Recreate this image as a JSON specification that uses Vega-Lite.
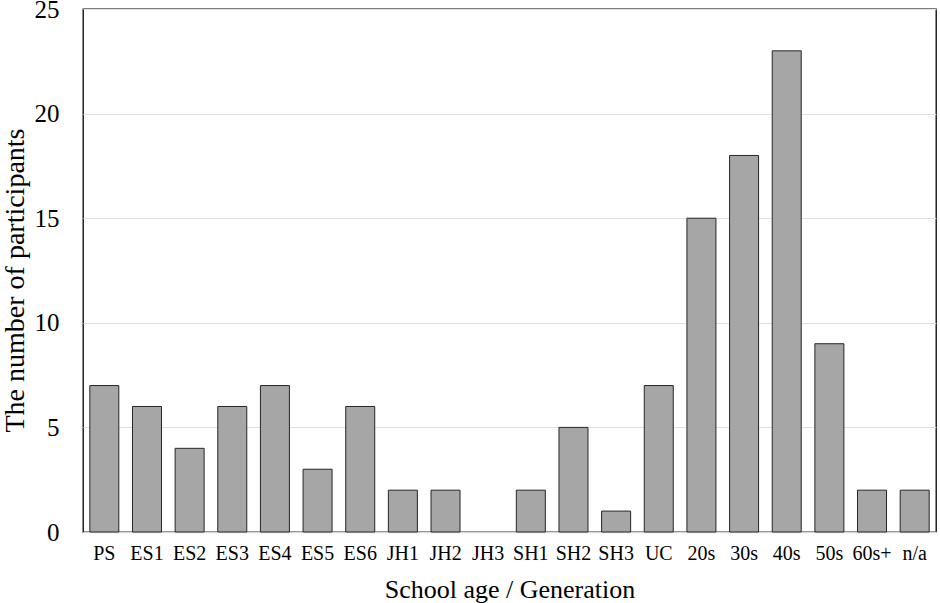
{
  "$schema": "https://vega.github.io/schema/vega-lite/v6.json",
  "width": 853,
  "height": 523,
  "autosize": {"type": "none"},
  "padding": {"left": 83, "top": 9, "right": 4, "bottom": 71},
  "background": "white",
  "data": {"values": [
    {"group": "PS", "n": 7},
    {"group": "ES1", "n": 6},
    {"group": "ES2", "n": 4},
    {"group": "ES3", "n": 6},
    {"group": "ES4", "n": 7},
    {"group": "ES5", "n": 3},
    {"group": "ES6", "n": 6},
    {"group": "JH1", "n": 2},
    {"group": "JH2", "n": 2},
    {"group": "JH3", "n": 0},
    {"group": "SH1", "n": 2},
    {"group": "SH2", "n": 5},
    {"group": "SH3", "n": 1},
    {"group": "UC", "n": 7},
    {"group": "20s", "n": 15},
    {"group": "30s", "n": 18},
    {"group": "40s", "n": 23},
    {"group": "50s", "n": 9},
    {"group": "60s+", "n": 2},
    {"group": "n/a", "n": 2}
  ]},
  "mark": {"type": "bar", "fill": "#a6a6a6", "strokeWidth": 1},
  "encoding": {
    "x": {
      "field": "group", "type": "nominal", "sort": null,
      "scale": {"paddingInner": 0.32, "paddingOuter": 0.16},
      "axis": {
        "title": "School age / Generation",
        "labelAngle": 0, "ticks": false,
        "labelFont": "Liberation Serif", "labelFontSize": 20, "labelColor": "black",
        "labelPadding": 11,
        "titleFont": "Liberation Serif", "titleFontSize": 26, "titleFontWeight": "normal", "titleColor": "black",
        "titlePadding": 13,
        "domainColor": "#d9d9d9", "domainWidth": 1.5
      }
    },
    "y": {
      "field": "n", "type": "quantitative",
      "scale": {"domain": [0, 25], "nice": false},
      "axis": {
        "title": "The number of participants",
        "values": [0, 5, 10, 15, 20, 25],
        "ticks": false, "domain": false,
        "labelFont": "Liberation Serif", "labelFontSize": 25, "labelColor": "black",
        "labelPadding": 24,
        "titleFont": "Liberation Serif", "titleFontSize": 28, "titleFontWeight": "normal", "titleColor": "black",
        "titleAngle": -90, "titleX": -60, "titleY": 271, "titleAlign": "center", "titleBaseline": "alphabetic",
        "gridColor": "#e0e0e0", "gridWidth": 1.2
      }
    },
    "stroke": {
      "condition": {"test": "datum.n == 0", "value": null},
      "value": "#262626"
    }
  },
  "config": {
    "view": {"stroke": "black", "strokeWidth": 1.3}
  }
}
